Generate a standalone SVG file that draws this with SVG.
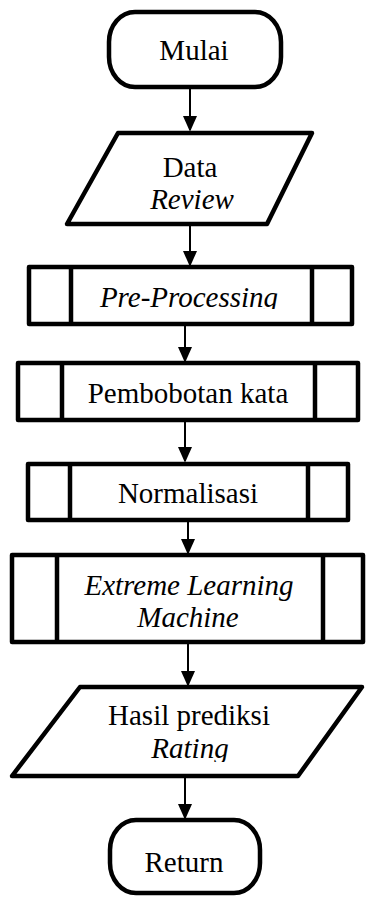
<svg xmlns="http://www.w3.org/2000/svg" width="366" height="897" viewBox="0 0 366 897">
<defs>
<style>
.s{fill:#fff;stroke:#000;stroke-width:4.5;stroke-linejoin:round}
.d{fill:none;stroke:#000;stroke-width:4.5}
.c{stroke:#000;stroke-width:2;fill:none}
.t{font-family:"Liberation Serif","Times New Roman",serif;font-size:29px;fill:#000;text-anchor:middle}
.i{font-style:italic}
</style>
<marker id="ah" markerWidth="16" markerHeight="18" refX="16" refY="8" orient="auto" markerUnits="userSpaceOnUse" viewBox="0 0 18 16">
<path d="M0,0 L18,8 L0,16 Z" fill="#000"/>
</marker>
<clipPath id="cp1"><rect x="0" y="260" width="366" height="49"/></clipPath>
<clipPath id="cp2"><rect x="0" y="680" width="366" height="82"/></clipPath>
</defs>
<rect width="366" height="897" fill="#fff"/>
<g id="connectors">
<line class="c" x1="190" y1="89" x2="190" y2="130" marker-end="url(#ah)"/>
<line class="c" x1="190" y1="226" x2="190" y2="265" marker-end="url(#ah)"/>
<line class="c" x1="185" y1="326" x2="185" y2="361" marker-end="url(#ah)"/>
<line class="c" x1="185" y1="422" x2="185" y2="461" marker-end="url(#ah)"/>
<line class="c" x1="188" y1="522" x2="188" y2="553" marker-end="url(#ah)"/>
<line class="c" x1="188" y1="644" x2="188" y2="685" marker-end="url(#ah)"/>
<line class="c" x1="185" y1="778" x2="185" y2="818" marker-end="url(#ah)"/>
</g>
<g id="mulai">
<rect class="s" x="109" y="12" width="172" height="75" rx="26" ry="30"/>
<text class="t" x="194" y="60">Mulai</text>
</g>
<g id="data-review">
<polygon class="s" points="118,133 312,133 267,224 67,224"/>
<text class="t" x="190" y="177">Data</text>
<text class="t i" x="192" y="209">Review</text>
</g>
<g id="pre-processing">
<rect class="s" x="29" y="267" width="323" height="57"/>
<line class="d" x1="71" y1="267" x2="71" y2="324"/>
<line class="d" x1="312" y1="267" x2="312" y2="324"/>
<text class="t i" x="189" y="307" clip-path="url(#cp1)">Pre-Processing</text>
</g>
<g id="pembobotan">
<rect class="s" x="18" y="363" width="340" height="57"/>
<line class="d" x1="62" y1="363" x2="62" y2="420"/>
<line class="d" x1="315" y1="363" x2="315" y2="420"/>
<text class="t" x="188" y="403">Pembobotan kata</text>
</g>
<g id="normalisasi">
<rect class="s" x="28" y="464" width="320" height="56"/>
<line class="d" x1="70" y1="464" x2="70" y2="520"/>
<line class="d" x1="308" y1="464" x2="308" y2="520"/>
<text class="t" x="188" y="503">Normalisasi</text>
</g>
<g id="elm">
<rect class="s" x="12" y="555" width="351" height="87"/>
<line class="d" x1="57" y1="555" x2="57" y2="642"/>
<line class="d" x1="323" y1="555" x2="323" y2="642"/>
<text class="t i" x="189" y="595">Extreme Learning</text>
<text class="t i" x="188" y="627">Machine</text>
</g>
<g id="hasil">
<polygon class="s" points="80,687 362,687 298,776 12,776"/>
<text class="t" x="189" y="725">Hasil prediksi</text>
<text class="t i" x="190" y="758" clip-path="url(#cp2)">Rating</text>
</g>
<g id="return">
<rect class="s" x="110" y="820" width="150" height="73" rx="26" ry="30"/>
<text class="t" x="184" y="872">Return</text>
</g>
</svg>
